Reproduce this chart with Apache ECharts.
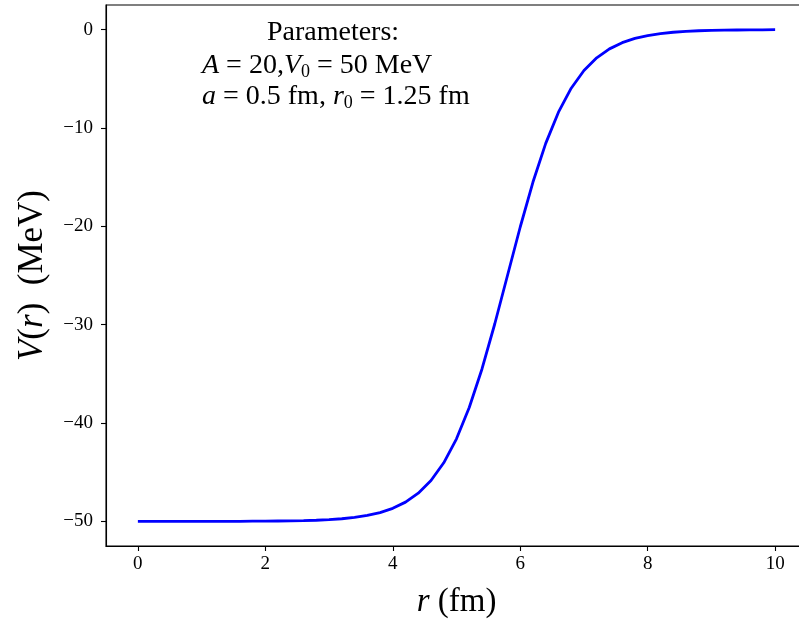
<!DOCTYPE html>
<html>
<head>
<meta charset="utf-8">
<script src="https://cdn.jsdelivr.net/npm/echarts@6/dist/echarts.min.js"></script>
<style>html,body{margin:0;padding:0;background:#fff}#c{width:799px;height:623px}</style>
</head>
<body>
<div id="c"></div>
<script>
// r (fm) and V(r) (MeV)
var rValues = [0.0,0.2,0.4,0.6,0.8,1.0,1.2,1.4,1.6,1.8,2.0,2.2,2.4,2.6,2.8,3.0,3.2,3.4,3.6,3.8,
  4.0,4.2,4.4,4.6,4.8,5.0,5.2,5.4,5.6,5.8,6.0,6.2,6.4,6.6,6.8,7.0,7.2,7.4,7.6,7.8,
  8.0,8.2,8.4,8.6,8.8,9.0,9.2,9.4,9.6,9.8,10.0];
var vValues = [-50.00,-50.00,-50.00,-50.00,-50.00,-50.00,-50.00,-49.99,-49.99,-49.98,-49.98,-49.96,-49.94,-49.92,-49.88,-49.82,-49.73,-49.59,-49.39,-49.10,
  -48.67,-48.04,-47.13,-45.84,-44.04,-41.60,-38.42,-34.50,-29.93,-25.00,-20.07,-15.50,-11.57,-8.40,-5.96,-4.16,-2.87,-1.96,-1.33,-0.90,
  -0.61,-0.41,-0.27,-0.18,-0.12,-0.08,-0.06,-0.04,-0.02,-0.02,-0.01];
var xTicks = [0, 2, 4, 6, 8, 10];
var yTicks = [-50, -40, -30, -20, -10, 0];

var FONT = '"Liberation Serif", "DejaVu Serif", serif';
var chart = echarts.init(document.getElementById('c'), null, {renderer: 'canvas'});
var pts = rValues.map(function (r, i) { return [r, vValues[i]]; });
function fmt(v) { return String(v).replace('-', '\u2212'); }
function titleStyle(size) {
  return {color: '#000', fontFamily: FONT, fontSize: size,
    rich: {i: {fontStyle: 'italic', fontFamily: FONT, fontSize: size, color: '#000'}}};
}
var annRich = {i: {fontStyle: 'italic', fontFamily: FONT, fontSize: 28}, s: {fontFamily: FONT, fontSize: 18, padding: [12, 0, 0, 0]}};

chart.setOption({
  animation: false,
  backgroundColor: '#fff',
  grid: {left: 106, width: 701, top: 5, bottom: 77, containLabel: false, outerBoundsMode: 'none',
    show: true, borderColor: '#000', borderWidth: 1.1, backgroundColor: 'transparent'},
  xAxis: {
    type: 'value', min: -0.5, max: 10.5,
    splitLine: {show: false},
    axisLine: {show: true, onZero: false, lineStyle: {color: '#000', width: 1.1}},
    axisTick: {show: true, inside: false, length: 5, customValues: xTicks, lineStyle: {color: '#000', width: 1.1}},
    axisLabel: {customValues: xTicks, margin: 9, color: '#000', fontFamily: FONT, fontSize: 19, formatter: fmt},
    name: '{i|r} (fm)', nameLocation: 'middle', nameGap: 40,
    nameTextStyle: titleStyle(33)
  },
  yAxis: {
    type: 'value', min: -52.5, max: 2.5,
    splitLine: {show: false},
    axisLine: {show: true, onZero: false, lineStyle: {color: '#000', width: 1.1}},
    axisTick: {show: true, inside: false, length: 5, customValues: yTicks, lineStyle: {color: '#000', width: 1.1}},
    axisLabel: {customValues: yTicks, margin: 13, color: '#000', fontFamily: FONT, fontSize: 19, formatter: fmt},
    name: '{i|V}({i|r})  (MeV)', nameLocation: 'middle', nameGap: 56,
    nameTextStyle: titleStyle(35)
  },
  series: [{
    type: 'line', data: pts, showSymbol: false, symbol: 'none',
    lineStyle: {color: '#0000ff', width: 2.8}, clip: false
  }],
  graphic: [
    {type: 'text', x: 333, y: 33, style: {text: 'Parameters:', align: 'center', verticalAlign: 'middle', fill: '#000', font: '28px ' + FONT}},
    {type: 'text', x: 202, y: 66, style: {
      text: '{i|A} = 20,{i|V}{s|0} = 50 MeV', verticalAlign: 'middle', fill: '#000', font: '28px ' + FONT, rich: annRich
    }},
    {type: 'text', x: 202, y: 97, style: {
      text: '{i|a} = 0.5 fm, {i|r}{s|0} = 1.25 fm', verticalAlign: 'middle', fill: '#000', font: '28px ' + FONT, rich: annRich
    }}
  ]
});
</script>
</body>
</html>
